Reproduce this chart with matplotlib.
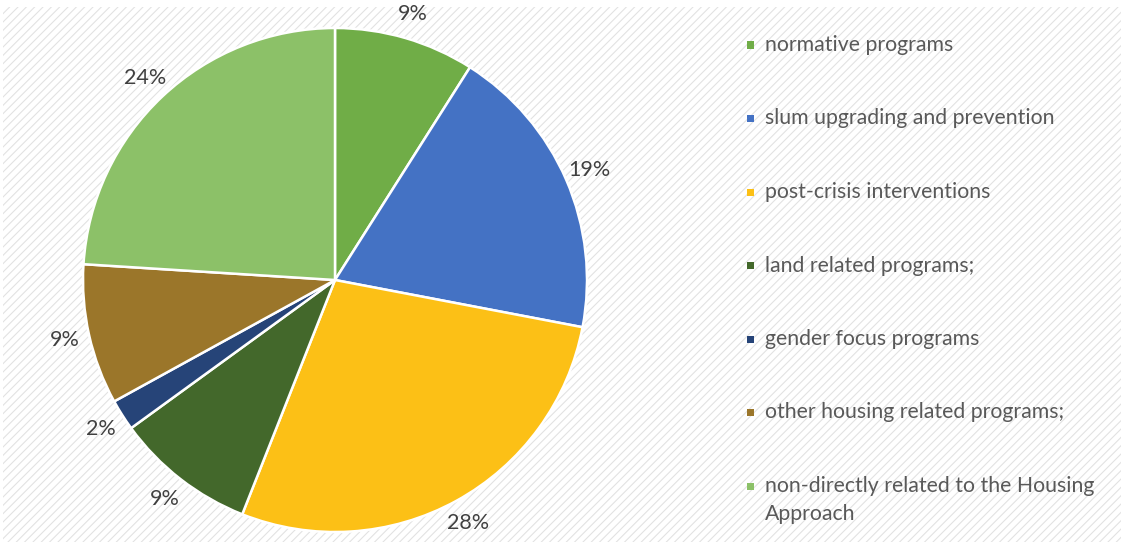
import matplotlib.pyplot as plt
from matplotlib.patches import Rectangle

plt.rcParams['font.family'] = ['Lato', 'DejaVu Sans']

labels = ["normative programs",
          "slum upgrading and prevention",
          "post-crisis interventions",
          "land related programs;",
          "gender focus programs",
          "other housing related programs;",
          "non-directly related to the Housing\nApproach"]
shares = [9, 19, 28, 9, 2, 9, 24]
colors = ["#70ad47", "#4472c4", "#fcc016", "#43682b",
          "#264478", "#9b762a", "#8cc168"]

W, H = 1121, 542
fig = plt.figure(figsize=(W / 100, H / 100), dpi=100)

# striped background
plt.rcParams['hatch.linewidth'] = 0.8
bg = Rectangle((0.003, 0), 0.997, 0.987, transform=fig.transFigure,
               facecolor="white", edgecolor="#e2e2e2", hatch="////",
               linewidth=0, zorder=-10)
fig.patches.append(bg)

cx, cy, R = 335, 280, 252
ax = fig.add_axes([(cx - R) / W, (H - cy - R) / H, 2 * R / W, 2 * R / H])
wedges, texts, autotexts = ax.pie(
    shares, colors=colors, startangle=90, counterclock=False,
    autopct="%d%%", pctdistance=1.1,
    wedgeprops=dict(edgecolor="white", linewidth=1.8),
    textprops=dict(color="#404040", fontsize=15.5))
ax.set_xlim(-1, 1)
ax.set_ylim(-1, 1)

# legend drawn by hand so the two-line label hangs from the marker
y0, step = 45, 73.5
for i, (lab, col) in enumerate(zip(labels, colors)):
    y = y0 + i * step
    fig.patches.append(Rectangle(((750 - 3.5) / W, (H - y - 3.5) / H),
                                 7 / W, 7 / H, transform=fig.transFigure,
                                 facecolor=col, edgecolor="none"))
    lines = lab.split("\n")
    for j, line in enumerate(lines):
        fig.text(765 / W, (H - y - 28 * j) / H, line, fontsize=15.3,
                 color="#595959", va="center", ha="left")

fig.savefig("out.png", dpi=100)
